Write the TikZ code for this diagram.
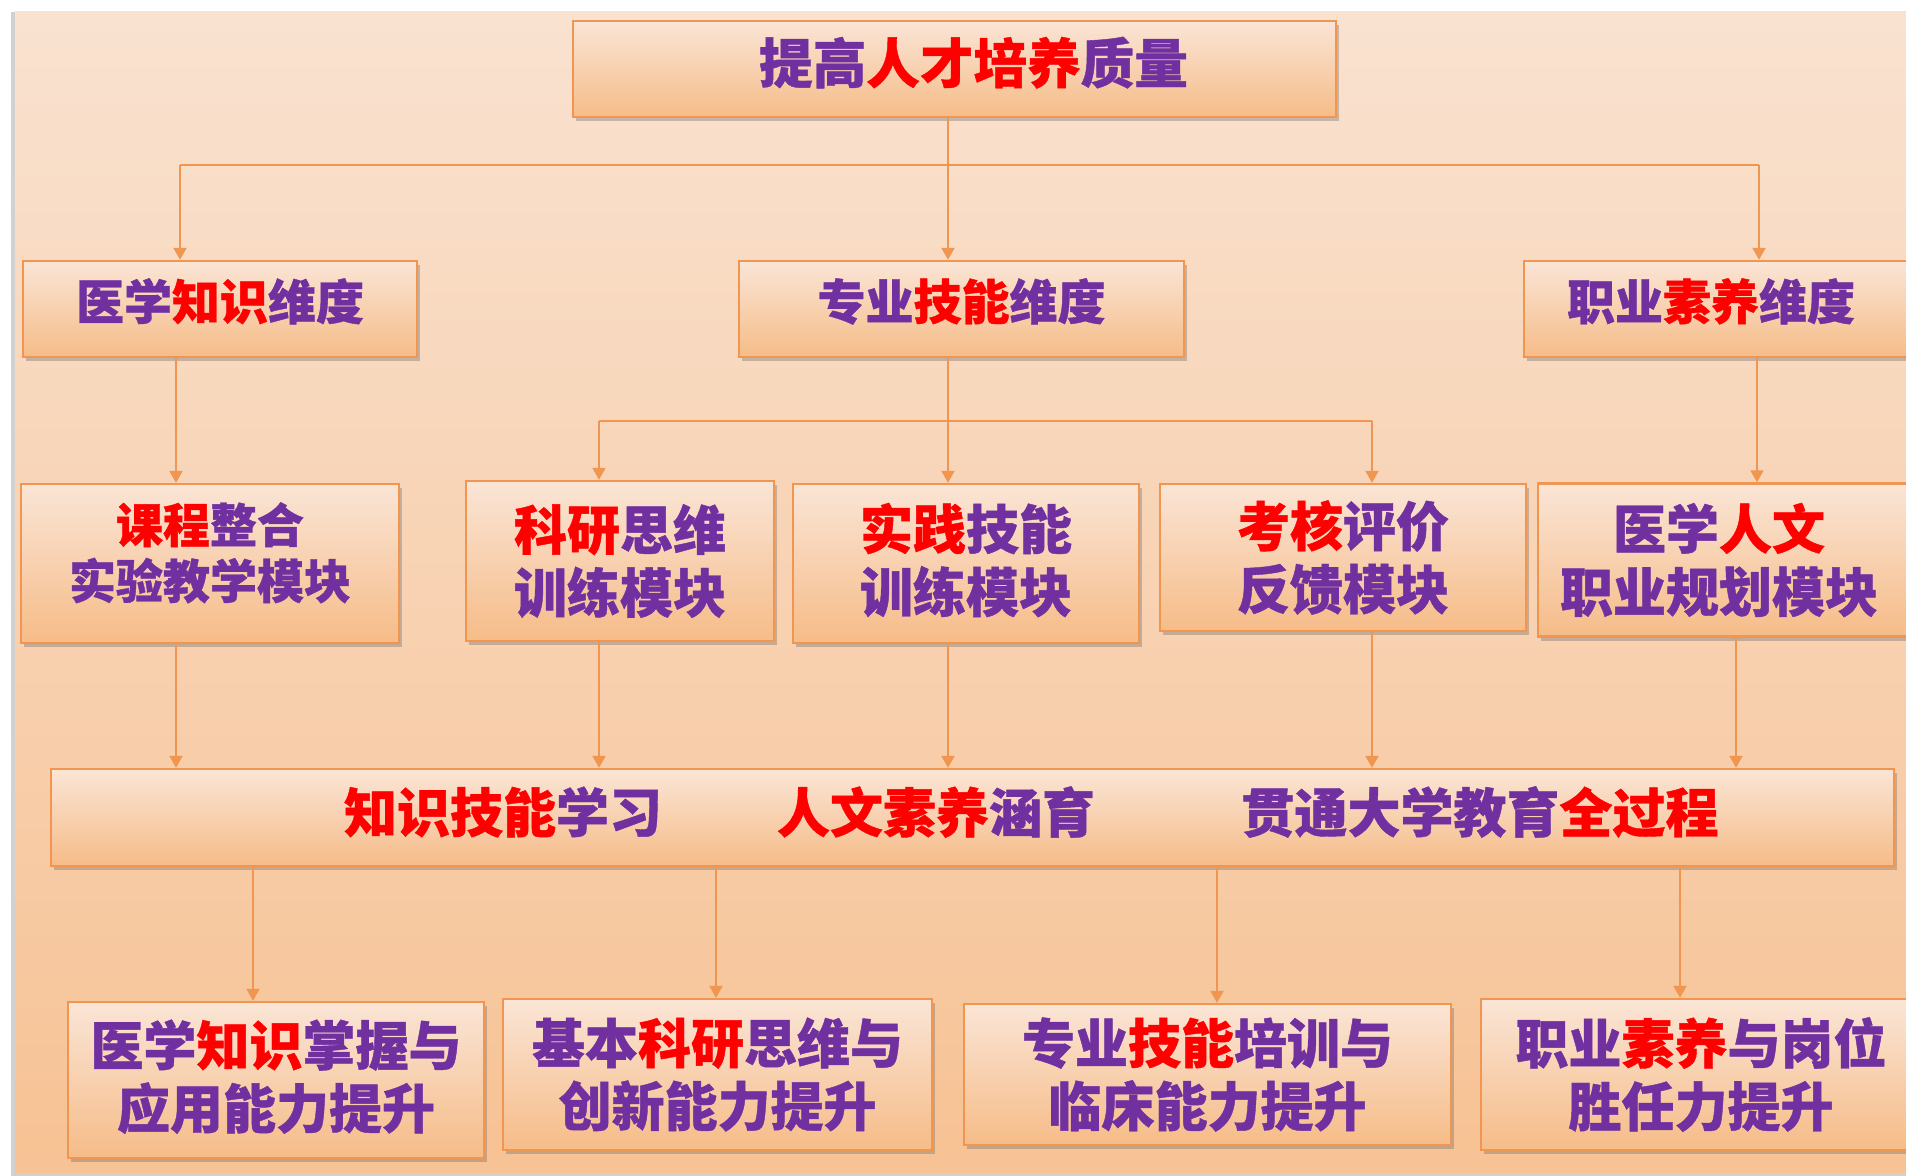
\documentclass[tikz,border=0pt]{standalone}
\usepackage{fontspec}
\newfontfamily\cjk{Noto Sans CJK SC}[BoldFeatures={FakeBold=0.8}]
\usetikzlibrary{arrows.meta, shadows}

\definecolor{purp}{RGB}{112,48,160}
\definecolor{hot}{RGB}{255,0,0}
\definecolor{lnk}{RGB}{240,150,80}
\definecolor{boxtop}{RGB}{250,229,214}
\definecolor{boxbot}{RGB}{246,188,136}
\definecolor{bgtop}{RGB}{249,226,208}
\definecolor{bgbot}{RGB}{247,194,148}

\newcommand{\hl}[1]{\textcolor{hot}{#1}}
\newcommand{\cjkbig}{\cjk\bfseries\fontsize{26.5pt}{31.5pt}\selectfont}

\begin{document}
\begin{tikzpicture}[x=0.5pt, y=-0.5pt,
	box/.style={draw=lnk, line width=1.2pt, top color=boxtop, bottom color=boxbot,
		drop shadow={shadow xshift=1.5pt, shadow yshift=-2pt, opacity=0.35, fill=black!60},
		align=center, text=purp, font=\cjkbig, inner sep=0pt},
	sz/.style 2 args={minimum width=#1*0.5pt, minimum height=#2*0.5pt},
	lbl/.style={text=purp, font=\cjkbig, inner sep=0pt},
	link/.style={draw=lnk, line width=1pt},
	arr/.style={link, -{Triangle[width=6.5pt,length=6pt]}}]
	
	% Canvas and background
	\useasboundingbox (0,0) rectangle (1906,1176);
	\fill[black!18] (11,12) rectangle (1906,1176);
	\fill[top color=bgtop, bottom color=bgbot] (15,12) rectangle (1906,1172);
	
	% Goal
	\node[box, sz={763}{96}, text depth=9pt, font=\cjk\bfseries\fontsize{26.8pt}{32pt}\selectfont] (top) at (954.5,69) {\hspace*{19pt}提高\hl{人才培养}质量};
	
	% Three dimensions
	\node[box, sz={394}{96}, text depth=10pt, font=\cjk\bfseries\fontsize{24pt}{29pt}\selectfont] (dimK) at (220,309) {医学\hl{知识}维度};
	\node[box, sz={445}{96}, text depth=10pt, font=\cjk\bfseries\fontsize{24pt}{29pt}\selectfont] (dimS) at (961.5,309) {专业\hl{技能}维度};
	\node[box, sz={422}{96}, text depth=10pt, font=\cjk\bfseries\fontsize{24pt}{29pt}\selectfont] (dimP) at (1735,309) {职业\hl{素养}维度\hspace*{24pt}};
	
	% Modules
	\node[box, sz={378}{159}, text depth=13pt, font=\cjk\bfseries\fontsize{23.5pt}{28pt}\selectfont] (modC) at (210,563.5) {\hl{课程}整合\\实验教学模块};
	\node[box, sz={308}{160}] (modR) at (620,561) {\hl{科研}思维\\训练模块};
	\node[box, sz={346}{159}, text depth=6pt] (modP) at (966,563.5) {\hl{实践}技能\\训练模块};
	\node[box, sz={366}{147}] (modE) at (1343,557.5) {\hl{考核}评价\\反馈模块};
	\node[box, sz={404}{153}] (modH) at (1740,560) {医学\hl{人文}\hspace*{21pt}\\职业规划模块\hspace*{21pt}};
	
	% Whole-process bar
	\node[box, sz={1843}{97}] (bar) at (972.5,817.5) {};
	\node[lbl] (barK) at (503,812) {\hl{知识技能}学习};
	\node[lbl] (barH) at (936,812) {\hl{人文素养}涵育};
	\node[lbl] (barT) at (1480,812) {贯通大学教育\hl{全过程}};
	
	% Outcomes
	\node[box, sz={416}{156}, text depth=6pt] (outK) at (276,1080) {医学\hl{知识}掌握与\\应用能力提升};
	\node[box, sz={429}{151}] (outR) at (717.5,1074.5) {基本\hl{科研}思维与\\创新能力提升};
	\node[box, sz={487}{141}] (outS) at (1207.5,1074.5) {专业\hl{技能}培训与\\临床能力提升};
	\node[box, sz={440}{151}] (outP) at (1701,1074.5) {职业\hl{素养}与岗位\\胜任力提升};
	
	% Top bus
	\coordinate (busT) at (948,165);
	\coordinate (tK) at (180,165);
	\coordinate (tP) at (1759,165);
	\draw[link] (top.south -| busT) -- (busT);
	\draw[link] (tK) -- (tP);
	\draw[arr] (tK) -- (dimK.north -| tK);
	\draw[arr] (busT) -- (dimS.north -| busT);
	\draw[arr] (tP) -- (dimP.north -| tP);
	
	% Skill bus
	\coordinate (busM) at (948,421);
	\coordinate (mR) at (599,421);
	\coordinate (mE) at (1372,421);
	\draw[link] (dimS.south -| busM) -- (busM);
	\draw[link] (mR) -- (mE);
	\draw[arr] (mR) -- (modR.north -| mR);
	\draw[arr] (busM) -- (modP.north -| busM);
	\draw[arr] (mE) -- (modE.north -| mE);
	
	% Side branches
	\coordinate (xK) at (176,0);
	\coordinate (xP) at (1757,0);
	\draw[arr] (dimK.south -| xK) -- (modC.north -| xK);
	\draw[arr] (dimP.south -| xP) -- (modH.north -| xP);
	
	% Modules into the bar
	\foreach \m/\x in {modC/176, modR/599, modP/948, modE/1372, modH/1736} {
		\coordinate (tmp) at (\x,0);
		\draw[arr] (\m.south -| tmp) -- (bar.north -| tmp);
	}
	
	% Bar to outcomes
	\foreach \o/\x in {outK/253, outR/716, outS/1217, outP/1680} {
		\coordinate (tmp) at (\x,0);
		\draw[arr] (bar.south -| tmp) -- (\o.north -| tmp);
	}
	
\end{tikzpicture}
\end{document}
